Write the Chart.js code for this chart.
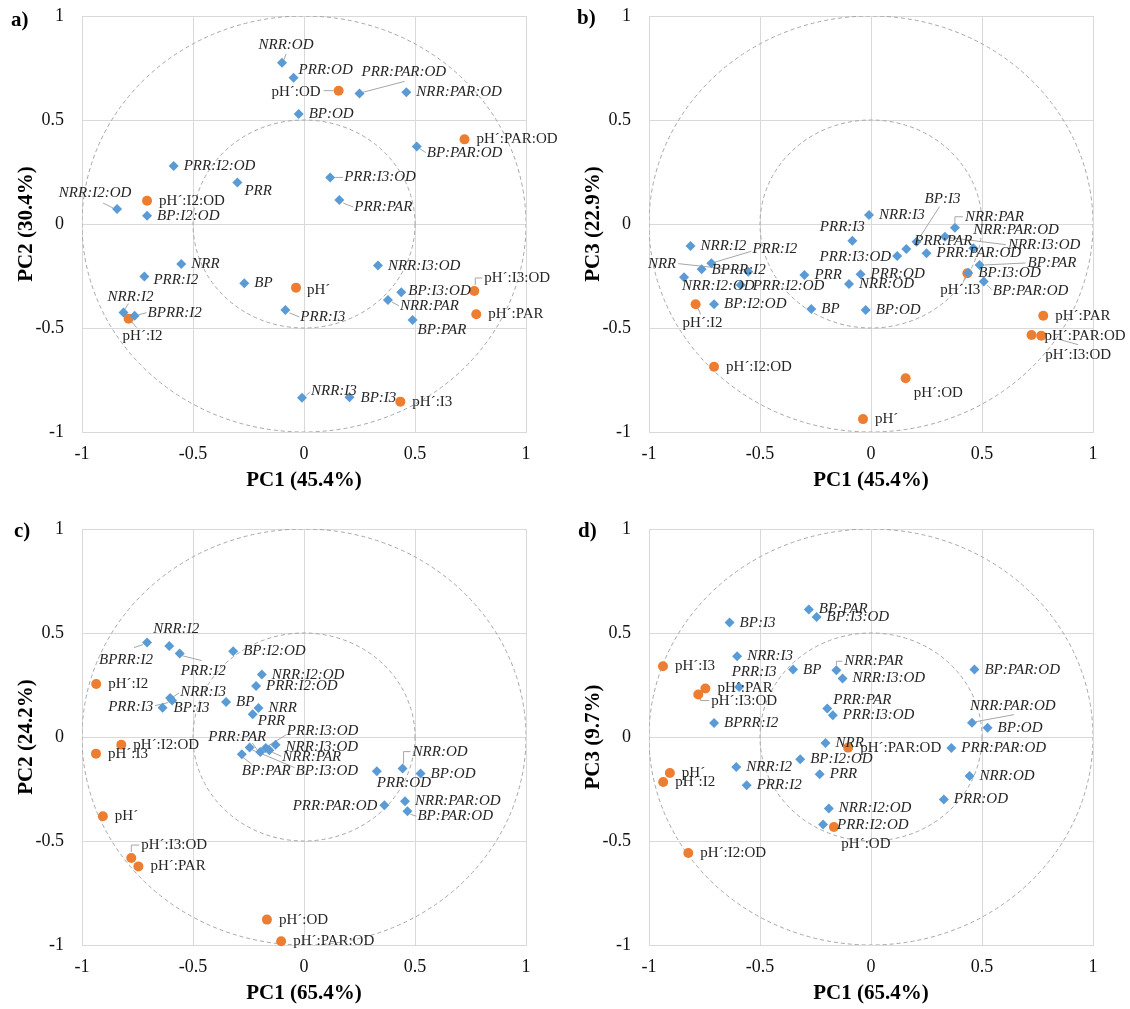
<!DOCTYPE html>
<html><head><meta charset="utf-8">
<script src="https://cdn.jsdelivr.net/npm/chart.js@4.4.0/dist/chart.umd.min.js"></script>
<style>
html,body{margin:0;padding:0;background:#fff;overflow:hidden;}
#wrap{position:relative;width:1130px;height:1009px;overflow:hidden;background:#fff;}
canvas{position:absolute;}
</style></head><body><div id="wrap">
<canvas id="ca" width="565" height="504" style="left:0px;top:0px"></canvas>
<canvas id="cb" width="565" height="504" style="left:567px;top:0px"></canvas>
<canvas id="cc" width="565" height="504" style="left:0px;top:513px"></canvas>
<canvas id="cd" width="565" height="504" style="left:567px;top:513px"></canvas>
</div>
<script>
// ---------------- DATA ----------------
const blueNames = ['NRR','PRR','BP','NRR:I2','PRR:I2','BPRR:I2','NRR:I3','PRR:I3','BP:I3',
  'NRR:PAR','PRR:PAR','BP:PAR','NRR:OD','PRR:OD','BP:OD','NRR:I2:OD','PRR:I2:OD','BP:I2:OD',
  'NRR:I3:OD','PRR:I3:OD','BP:I3:OD','NRR:PAR:OD','PRR:PAR:OD','BP:PAR:OD'];
const orangeNames = ['pH´','pH´:I2','pH´:I3','pH´:PAR','pH´:OD','pH´:I2:OD','pH´:I3:OD','pH´:PAR:OD'];
const tickLabels = ['-1','-0.5','0','0.5','1'];

// Analysis 1: PC1 (45.4%), PC2 (30.4%), PC3 (22.9%)
const bluePC1_454 = [-0.553,-0.300,-0.269,-0.813,-0.719,-0.763,-0.009,-0.084,0.205,
  0.378,0.159,0.489,-0.099,-0.047,-0.024,-0.842,-0.587,-0.707,
  0.333,0.118,0.438,0.461,0.250,0.508];
const bluePC2_304 = [-0.192,0.199,-0.285,-0.426,-0.253,-0.441,-0.835,-0.413,-0.833,
  -0.365,0.115,-0.462,0.775,0.703,0.529,0.072,0.279,0.040,
  -0.200,0.224,-0.328,0.633,0.628,0.372];
const bluePC3_229 = [-0.229,-0.245,-0.409,-0.106,-0.189,-0.218,0.043,-0.080,-0.085,
  -0.018,-0.120,-0.197,-0.288,-0.242,-0.413,-0.256,-0.293,-0.386,
  -0.061,-0.154,-0.235,-0.117,-0.141,-0.277];
const orangePC1_454 = [-0.036,-0.790,0.434,0.776,0.156,-0.707,0.767,0.723];
const orangePC2_304 = [-0.306,-0.455,-0.854,-0.434,0.641,0.112,-0.322,0.407];
const orangePC3_229 = [-0.938,-0.386,-0.237,-0.441,-0.742,-0.686,-0.537,-0.534];

// Analysis 2: PC1 (65.4%), PC2 (24.2%), PC3 (9.7%)
const bluePC1_654 = [-0.205,-0.231,-0.351,-0.607,-0.560,-0.707,-0.603,-0.594,-0.637,
  -0.156,-0.197,-0.280,0.444,0.328,0.525,-0.190,-0.216,-0.319,
  -0.128,-0.172,-0.245,0.455,0.362,0.466];
const bluePC2_242 = [0.139,0.109,0.168,0.438,0.401,0.454,0.188,0.175,0.141,
  -0.064,-0.072,-0.083,-0.152,-0.165,-0.176,0.300,0.245,0.412,
  -0.037,-0.053,-0.051,-0.309,-0.328,-0.357];
const bluePC3_97 = [-0.029,-0.179,0.324,-0.144,-0.232,0.067,0.388,0.240,0.550,
  0.321,0.137,0.613,-0.188,-0.300,0.045,-0.344,-0.421,-0.107,
  0.281,0.104,0.577,0.069,-0.053,0.324];
const orangePC1_654 = [-0.906,-0.936,-0.937,-0.746,-0.167,-0.823,-0.778,-0.103];
const orangePC2_242 = [-0.381,0.255,-0.080,-0.622,-0.878,-0.037,-0.582,-0.982];
const orangePC3_97 = [-0.173,-0.216,0.340,0.233,-0.433,-0.558,0.204,-0.051];

const refCircles = [1, 0.5];

// ---------------- LABEL PLACEMENT (pixel offsets from marker) ----------------
const labA = {
 'NRR:OD':[4,-18,'c',[[2,-3],[4,-9]]],
 'PRR:OD':[5,-8,'l'],
 'PRR:PAR:OD':[2,-21,'l',[[3,-1],[45,-12]]],
 'BP:PAR:OD':[10,6,'l',[[3,2],[9,6]]],
 'PRR:I3:OD':[14,0,'l',[[5,0],[13,0]]],
 'PRR:PAR':[15,7,'l',[[4,3],[14,7]]],
 'PRR':[7,8,'l'],
 'NRR:I2:OD':[-22,-16,'c',[[-4,-1],[-14,-6]]],
 'PRR:I2':[9,3,'l'],
 'NRR:I2':[7,-16,'c',[[1,-3],[5,-9]]],
 'BPRR:I2':[13,-3,'l',[[4,-1],[12,-3]]],
 'BP:I3:OD':[7,-1,'l'],
 'NRR:PAR':[12,6,'l',[[4,2],[11,6]]],
 'PRR:I3':[15,7,'l',[[4,3],[14,7]]],
 'BP:PAR':[5,10,'l'],
 'NRR:I3':[9,-7,'l',[[4,-2],[8,-6]]],
 'BP:I3':[11,1,'l'],
 'pH´:OD':[-18,1,'r',[[-5,0],[-15,0]]],
 'pH´:I2':[14,17,'c',[[3,3],[8,9]]],
 'pH´:I3:OD':[10,-13,'l',[[1,-6],[1,-13],[8,-13]]],
 'pH´':[11,2,'l']
};
const labB = {
 'PRR:I2':[41,-14,'l',[[3,-1],[40,-12]]],
 'NRR':[-72,-8,'r',[[-5,-1],[-70,-8]]],
 'BPRR:I2':[10,1,'l'],
 'NRR:I2:OD':[-2,9,'l'],
 'PRR:I2:OD':[12,1,'l'],
 'PRR:I3':[-10,-14,'c'],
 'BP:I3':[26,-43,'c',[[3,-4],[23,-35]]],
 'PRR:PAR':[8,-8,'l'],
 'PRR:I3:OD':[-6,1,'r'],
 'NRR:I3:OD':[63,8,'l',[[5,1],[61,8]]],
 'NRR:PAR':[10,-11,'l',[[0,-5],[0,-11],[8,-11]]],
 'NRR:PAR:OD':[0,-18,'l'],
 'BP:PAR':[48,-2,'l',[[5,0],[46,-2]]],
 'BP:PAR:OD':[9,9,'l',[[3,3],[8,8]]],
 'pH´:I2':[7,19,'c',[[2,3],[5,10]]],
 'pH´:I3':[-7,17,'c',[[-2,3],[-4,9]]],
 'pH´:PAR:OD':[13,1,'l'],
 'pH´:I3:OD':[4,19,'l',[[19,4],[37,9]]],
 'pH´:OD':[8,15,'l']
};
const labC = {
 'BPRR:I2':[-21,17,'c',[[-4,2],[-13,5]]],
 'NRR:I2':[7,-17,'c'],
 'PRR:I2':[1,17,'l',[[2,2],[22,7]]],
 'NRR:I3':[10,-6,'l',[[3,-1],[9,-5]]],
 'PRR:I3':[-19,6,'r',[[-4,2],[-17,5]]],
 'BP:I3':[11,0,'l'],
 'PRR':[5,7,'l'],
 'PRR:PAR':[-23,-15,'c',[[-3,-2],[-8,-9]]],
 'BP:PAR':[0,17,'l',[[1,3],[10,10]]],
 'BP:I3:OD':[46,23,'l',[[2,2],[45,20]]],
 'PRR:I3:OD':[21,-17,'l',[[2,-2],[20,-13]]],
 'NRR:PAR':[13,7,'l',[[3,2],[12,6]]],
 'NRR:I3:OD':[10,2,'l'],
 'PRR:OD':[0,12,'l'],
 'NRR:OD':[10,-17,'l',[[1,-5],[1,-17],[8,-17]]],
 'PRR:PAR:OD':[-7,1,'r'],
 'BP:PAR:OD':[10,5,'l',[[3,3],[9,5]]],
 'pH´:I3:OD':[10,-13,'l',[[0,-6],[0,-13],[8,-13]]]
};
const labD = {
 'PRR:I3':[15,-15,'c'],
 'NRR:PAR':[8,-9,'l',[[0,-5],[0,-9],[6,-9]]],
 'PRR:PAR':[6,-8,'l'],
 'PRR:I2:OD':[14,0,'l'],
 'NRR:PAR:OD':[-2,-17,'l',[[4,-1],[42,-8]]],
 'pH´:I3:OD':[13,6,'l',[[2,2],[2,6],[11,6]]],
 'pH´:OD':[32,17,'c']
};

// ---------------- DRAWING ----------------
const SERIF = '"Liberation Serif", "Times New Roman", serif';

const decor = {
  id: 'decor',
  beforeDatasetsDraw(chart, args, opts) {
    const {ctx, chartArea: a, scales: {x, y}} = chart;
    ctx.save();
    ctx.beginPath();
    ctx.rect(a.left, a.top, a.right - a.left, a.bottom - a.top);
    ctx.clip();
    ctx.strokeStyle = '#a6a6a6';
    ctx.lineWidth = 1;
    ctx.setLineDash([4, 3]);
    const cx = x.getPixelForValue(0), cy = y.getPixelForValue(0);
    refCircles.forEach(r => {
      ctx.beginPath();
      ctx.ellipse(cx, cy, x.getPixelForValue(r) - cx, cy - y.getPixelForValue(r), 0, 0, Math.PI * 2);
      ctx.stroke();
    });
    ctx.restore();
    // leader lines
    ctx.save();
    ctx.strokeStyle = '#a6a6a6';
    ctx.lineWidth = 1;
    [0, 1].forEach(ds => {
      const names = ds === 0 ? blueNames : orangeNames;
      chart.getDatasetMeta(ds).data.forEach((el, i) => {
        const o = opts.layout[names[i]];
        if (!o || !o[3]) return;
        ctx.beginPath();
        o[3].forEach((p, k) => {
          if (k === 0) ctx.moveTo(el.x + p[0], el.y + p[1]);
          else ctx.lineTo(el.x + p[0], el.y + p[1]);
        });
        ctx.stroke();
      });
    });
    ctx.restore();
  },
  afterDatasetsDraw(chart, args, opts) {
    const ctx = chart.ctx;
    ctx.save();
    ctx.textBaseline = 'middle';
    ctx.fillStyle = '#262626';
    [0, 1].forEach(ds => {
      const names = ds === 0 ? blueNames : orangeNames;
      ctx.font = (ds === 0 ? 'italic ' : '') + '15px ' + SERIF;
      chart.getDatasetMeta(ds).data.forEach((el, i) => {
        const o = opts.layout[names[i]] || (ds === 0 ? [10, 0, 'l'] : [12, 0, 'l']);
        ctx.textAlign = o[2] === 'l' ? 'left' : (o[2] === 'r' ? 'right' : 'center');
        ctx.fillText(names[i], el.x + o[0], el.y + o[1]);
      });
    });
    ctx.fillStyle = '#000';
    ctx.textAlign = 'left';
    ctx.font = 'bold 21px ' + SERIF;
    ctx.fillText(opts.letter, opts.lx, opts.ly);
    ctx.restore();
  }
};

function axisCommon(titleText, isX) {
  return {
    type: 'linear', min: -1, max: 1,
    position: isX ? 'bottom' : 'left',
    ticks: {
      stepSize: 0.5, padding: isX ? 11 : 18, color: '#111',
      font: {family: SERIF, size: 18},
      maxRotation: 0, autoSkip: false,
      callback: (v, i) => tickLabels[i]
    },
    grid: {color: '#d9d9d9', lineWidth: 1, drawTicks: false},
    border: {display: true, color: '#d9d9d9', width: 1},
    title: {
      display: true, text: titleText, color: '#000',
      font: {family: SERIF, size: 21, weight: 'bold'},
      padding: isX ? {top: 0, bottom: 11} : {top: 14, bottom: 0}
    },
    afterFit: isX
      ? (s) => { s.height = 72; s.paddingLeft = 0; s.paddingRight = 0; }
      : (s) => { s.width = 82; s.paddingTop = 0; s.paddingBottom = 0; }
  };
}

function makePanel(p) {
  const blue = blueNames.map((n, i) => ({x: p.bx[i], y: p.by[i]}));
  const orange = orangeNames.map((n, i) => ({x: p.ox[i], y: p.oy[i]}));
  new Chart(document.getElementById(p.id), {
    type: 'scatter',
    data: {datasets: [
      {label: 'variables', data: blue, pointStyle: 'rectRot', pointRadius: 5, pointHoverRadius: 5,
       backgroundColor: '#5b9bd5', borderWidth: 0, clip: false},
      {label: 'pH', data: orange, pointStyle: 'circle', pointRadius: 5, pointHoverRadius: 5,
       backgroundColor: '#ed7d31', borderWidth: 0, clip: false}
    ]},
    options: {
      responsive: false, animation: false, devicePixelRatio: 1, events: [],
      layout: {padding: {left: 0, top: 16, right: 39, bottom: 0}},
      plugins: {
        legend: {display: false}, tooltip: {enabled: false},
        decor: {layout: p.lab, letter: p.letter, lx: p.lx, ly: p.ly}
      },
      scales: {x: axisCommon(p.xt, true), y: axisCommon(p.yt, false)}
    },
    plugins: [decor]
  });
}

makePanel({id: 'ca', bx: bluePC1_454, by: bluePC2_304, ox: orangePC1_454, oy: orangePC2_304,
  xt: 'PC1 (45.4%)', yt: 'PC2 (30.4%)', lab: labA, letter: 'a)', lx: 11, ly: 21});
makePanel({id: 'cb', bx: bluePC1_454, by: bluePC3_229, ox: orangePC1_454, oy: orangePC3_229,
  xt: 'PC1 (45.4%)', yt: 'PC3 (22.9%)', lab: labB, letter: 'b)', lx: 10, ly: 19});
makePanel({id: 'cc', bx: bluePC1_654, by: bluePC2_242, ox: orangePC1_654, oy: orangePC2_242,
  xt: 'PC1 (65.4%)', yt: 'PC2 (24.2%)', lab: labC, letter: 'c)', lx: 14, ly: 19});
makePanel({id: 'cd', bx: bluePC1_654, by: bluePC3_97, ox: orangePC1_654, oy: orangePC3_97,
  xt: 'PC1 (65.4%)', yt: 'PC3 (9.7%)', lab: labD, letter: 'd)', lx: 11, ly: 19});
</script>
</body></html>
